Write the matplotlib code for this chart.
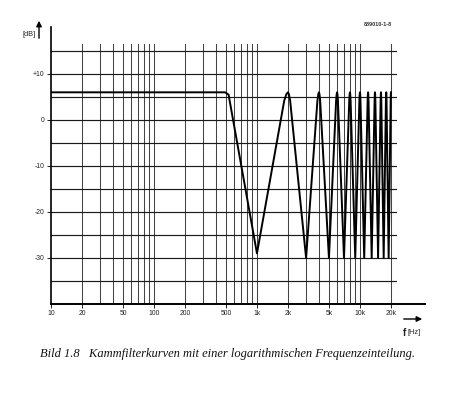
import matplotlib.pyplot as plt
import numpy as np

# comb filter curve (Hz, dB)
flat_freqs = [10, 490]
flat_db = [6.0, 6.0]
corner_freq = 530
corner_db = 5.5
peak_freqs = [2000, 4000, 6000, 8000, 10000, 12000, 14000, 16000, 18000, 20000]
peak_db = [6.0, 6.0, 6.0, 6.0, 6.0, 6.0, 6.0, 6.0, 6.0, 6.0]
notch_freqs = [1000, 3000, 5000, 7000, 9000, 11000, 13000, 15000, 17000, 19000]
notch_db = [-29.0, -30.0, -30.0, -30.0, -30.0, -30.0, -30.0, -30.0, -30.0, -30.0]

xgrid = [20, 30, 40, 50, 60, 70, 80, 90, 100, 200, 300, 400, 500, 600, 700, 800, 900,
         1000, 2000, 3000, 4000, 5000, 6000, 7000, 8000, 9000, 10000, 20000]
ygrid = [15, 10, 5, 0, -5, -10, -15, -20, -25, -30, -35]
xticks = [10, 20, 50, 100, 200, 500, 1000, 2000, 5000, 10000, 20000]
xticklabels = ['10', '20', '50', '100', '200', '500', '1k', '2k', '5k', '10k', '20k']
yticks = [10, 0, -10, -20, -30]
yticklabels = ['+10', '0', '-10', '-20', '-30']

# build the polyline: flat part, then notch / rounded peak alternating
fx = list(flat_freqs) + [corner_freq]
fy = list(flat_db) + [corner_db]
for i in range(len(peak_freqs)):
    fx.append(notch_freqs[i]); fy.append(notch_db[i])
    lp = np.log10(peak_freqs[i])
    ll = np.log10(notch_freqs[i])
    lr = np.log10(notch_freqs[i + 1]) if i + 1 < len(notch_freqs) else lp + (lp - ll)
    for frac, drop in [(0.12, 1.8), (0.05, 0.4)]:
        fx.append(10 ** (lp - frac * (lp - ll))); fy.append(peak_db[i] - drop)
    fx.append(peak_freqs[i]); fy.append(peak_db[i])
    if i + 1 < len(peak_freqs):
        for frac, drop in [(0.05, 0.4), (0.12, 1.8)]:
            fx.append(10 ** (lp + frac * (lr - lp))); fy.append(peak_db[i] - drop)

fig = plt.figure(figsize=(4.52, 3.98), dpi=100)
ax = fig.add_axes([51 / 452, 94 / 398, 346 / 452, 260 / 398])
ax.set_xscale('log')
ax.set_xlim(10, 22900)
ax.set_ylim(-40, 16.5)

for x in xgrid:
    ax.axvline(x, color='#444444', lw=0.75, zorder=1)
for y in ygrid:
    ax.axhline(y, color='#1a1a1a', lw=0.85, zorder=1)

ax.plot(fx, fy, color='black', lw=1.4, solid_joinstyle='round', zorder=3)

for s in ['top', 'right', 'left', 'bottom']:
    ax.spines[s].set_visible(False)
# axis lines run past the grid
ax.plot([10, 10], [-40, 20.3], color='black', lw=1.2, clip_on=False, zorder=4)
ax.plot([10, 42500], [-40, -40], color='black', lw=1.4, clip_on=False, zorder=4)

ax.set_xticks(xticks)
ax.set_xticklabels(xticklabels)
ax.xaxis.set_minor_locator(plt.NullLocator())
ax.set_yticks(yticks)
ax.set_yticklabels(yticklabels)
ax.tick_params(axis='both', direction='out', length=3, width=0.7, color='#222222',
               labelsize=4.9, labelcolor='#222222', pad=1.5)
for lab in ax.get_xticklabels() + ax.get_yticklabels():
    lab.set_family('Liberation Sans')

# axis arrows and unit labels
ax.annotate('', xy=(39, 380), xytext=(39, 357), xycoords='figure pixels',
            arrowprops=dict(arrowstyle='-|>', color='black', lw=1.0, mutation_scale=8))
ax.annotate('', xy=(425, 79), xytext=(401, 79), xycoords='figure pixels',
            arrowprops=dict(arrowstyle='-|>', color='black', lw=1.0, mutation_scale=8))
fig.text(36 / 452, 1 - 35 / 398, '[dB]', ha='right', va='center', fontsize=5.3,
         family='Liberation Sans', color='#222222')
fig.text(403 / 452, 1 - 333 / 398, 'f', ha='left', va='center', fontsize=7,
         family='Liberation Sans', weight='bold', color='#222222')
fig.text(408 / 452, 1 - 333 / 398, '[Hz]', ha='left', va='center', fontsize=5.3,
         family='Liberation Sans', color='#222222')
fig.text(392 / 452, 1 - 24 / 398, '889010-1-8', ha='right', va='center', fontsize=4.0,
         family='Liberation Sans', weight='bold', color='#333333')

fig.text(228 / 452, 1 - 354 / 398,
         'Bild 1.8   Kammfilterkurven mit einer logarithmischen Frequenzeinteilung.',
         ha='center', va='center', fontsize=9.0, family='Liberation Serif',
         style='italic', color='#111111')

fig.savefig('out.png', dpi=100)
